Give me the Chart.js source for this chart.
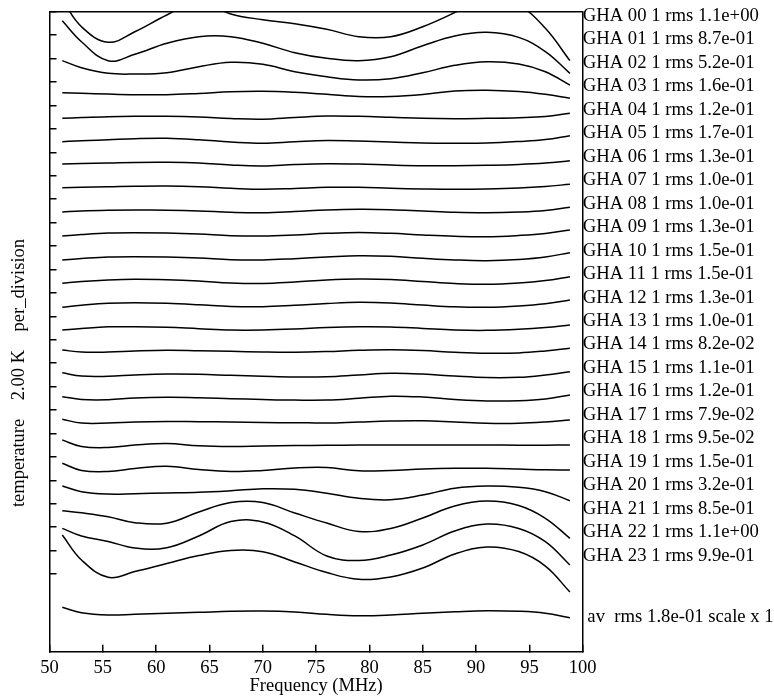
<!DOCTYPE html>
<html>
<head>
<meta charset="utf-8">
<title>GHA residuals</title>
<script src="https://cdn.jsdelivr.net/npm/chart.js@4/dist/chart.umd.min.js"></script>
<style>
  html, body { margin: 0; padding: 0; background: #fff; }
  #chart { display: block; }
</style>
</head>
<body>
<canvas id="chart" width="774" height="696"></canvas>
<script>
// frequencies (MHz) where the curves were sampled
var freqs = [51.2, 53, 55.5, 58, 61, 64, 67, 70, 73, 76, 79, 82, 85, 88, 91, 94, 96.5, 98.8];

// curves in K, already offset by 2 K per division
var gha00 = [1.00, -1.28, -2.61, -1.71, -0.28, 0.91, -0.20, -0.68, -1.02, -1.50, -2.13, -2.13, -1.28, -0.07, 1.34, 0.55, -1.42, -4.18];
var gha01 = [-0.77, -2.56, -4.18, -3.64, -2.70, -2.13, -2.13, -2.70, -3.50, -3.98, -4.18, -3.84, -2.90, -2.07, -1.76, -2.19, -3.41, -5.26];
var gha02 = [-4.18, -4.78, -5.26, -5.32, -5.21, -4.69, -4.32, -4.49, -5.12, -5.55, -5.83, -5.72, -5.21, -4.58, -4.27, -4.46, -5.12, -6.26];
var gha03 = [-6.91, -6.96, -7.03, -7.08, -7.09, -6.98, -6.83, -6.79, -6.88, -7.05, -7.24, -7.24, -7.07, -6.77, -6.70, -6.81, -7.05, -7.39];
var gha04 = [-9.10, -9.03, -8.96, -8.93, -8.93, -8.99, -9.12, -9.18, -9.03, -8.90, -8.93, -9.01, -9.10, -9.13, -9.10, -9.05, -8.95, -8.67];
var gha05 = [-11.10, -11.01, -10.93, -10.84, -10.81, -10.93, -11.12, -11.23, -11.10, -10.99, -11.04, -11.12, -11.21, -11.23, -11.21, -11.08, -10.91, -10.58];
var gha06 = [-13.00, -12.96, -12.92, -12.87, -12.86, -12.92, -13.09, -13.17, -13.04, -12.97, -13.00, -13.09, -13.15, -13.15, -13.11, -13.04, -12.92, -12.72];
var gha07 = [-15.02, -14.99, -14.95, -14.90, -14.88, -14.94, -15.07, -15.16, -15.09, -14.99, -14.99, -15.07, -15.13, -15.16, -15.13, -15.05, -14.92, -14.73];
var gha08 = [-17.10, -17.01, -16.95, -16.93, -16.95, -17.01, -17.12, -17.16, -17.06, -16.93, -16.87, -16.90, -17.01, -17.12, -17.16, -17.10, -16.97, -16.70];
var gha09 = [-19.15, -19.02, -18.89, -18.86, -18.89, -18.98, -19.12, -19.15, -19.06, -18.92, -18.85, -18.92, -19.06, -19.17, -19.21, -19.10, -18.93, -18.63];
var gha10 = [-21.19, -21.07, -20.94, -20.91, -20.94, -21.02, -21.17, -21.19, -21.08, -20.94, -20.83, -20.88, -21.05, -21.19, -21.25, -21.15, -20.94, -20.57];
var gha11 = [-23.18, -23.03, -22.90, -22.84, -22.88, -22.99, -23.16, -23.20, -23.07, -22.90, -22.82, -22.86, -23.03, -23.20, -23.27, -23.16, -22.95, -22.62];
var gha12 = [-25.23, -25.06, -24.89, -24.84, -24.89, -25.01, -25.16, -25.18, -25.06, -24.91, -24.81, -24.87, -25.04, -25.19, -25.23, -25.12, -24.93, -24.61];
var gha13 = [-27.17, -27.04, -26.90, -26.89, -26.94, -27.06, -27.17, -27.17, -27.09, -26.96, -26.89, -26.91, -27.04, -27.17, -27.20, -27.11, -26.96, -26.74];
var gha14 = [-28.88, -29.05, -29.05, -28.96, -28.90, -28.94, -28.99, -29.05, -29.07, -29.01, -28.90, -28.85, -28.92, -29.07, -29.16, -29.13, -28.96, -28.73];
var gha15 = [-30.82, -31.10, -31.12, -31.01, -30.93, -30.95, -31.04, -31.12, -31.18, -31.16, -31.01, -30.87, -30.93, -31.10, -31.23, -31.21, -31.01, -30.73];
var gha16 = [-32.86, -33.10, -33.12, -32.98, -32.92, -32.95, -33.03, -33.10, -33.15, -33.15, -33.00, -32.82, -32.89, -33.10, -33.23, -33.21, -33.06, -32.72];
var gha17 = [-34.79, -35.11, -35.11, -35.02, -34.98, -35.00, -35.02, -35.07, -35.08, -35.11, -35.02, -34.94, -34.92, -35.02, -35.13, -35.13, -35.02, -34.85];
var gha18 = [-36.56, -37.11, -37.20, -36.99, -36.86, -37.05, -37.11, -37.07, -37.03, -37.01, -36.99, -36.99, -36.98, -36.98, -36.99, -37.00, -37.00, -36.99];
var gha19 = [-38.55, -39.16, -39.25, -38.99, -38.80, -39.08, -39.25, -39.16, -38.95, -38.91, -39.19, -39.16, -39.04, -38.98, -38.98, -39.04, -39.10, -39.12];
var gha20 = [-40.49, -40.97, -41.17, -41.14, -41.08, -41.02, -40.89, -40.72, -40.77, -41.11, -41.54, -41.66, -41.26, -40.68, -40.49, -40.60, -40.97, -41.74];
var gha21 = [-42.59, -42.77, -43.11, -43.62, -43.66, -42.71, -41.90, -41.90, -42.79, -43.65, -44.37, -44.11, -43.22, -42.19, -41.77, -42.15, -43.24, -44.95];
var gha22 = [-44.10, -44.75, -45.22, -45.78, -45.75, -44.75, -43.52, -43.56, -44.75, -46.46, -46.85, -46.38, -45.52, -44.33, -43.73, -44.11, -45.24, -47.23];
var gha23 = [-44.67, -46.80, -48.28, -47.79, -47.10, -46.42, -45.99, -46.09, -46.97, -47.87, -48.45, -48.25, -47.49, -46.29, -45.69, -46.08, -47.32, -49.54];
var avg = [-50.84, -51.30, -51.50, -51.44, -51.35, -51.27, -51.18, -51.16, -51.24, -51.44, -51.56, -51.50, -51.35, -51.22, -51.13, -51.18, -51.35, -51.73];

var series = [gha00, gha01, gha02, gha03, gha04, gha05, gha06, gha07, gha08, gha09, gha10, gha11,
  gha12, gha13, gha14, gha15, gha16, gha17, gha18, gha19, gha20, gha21, gha22, gha23, avg];

// right-hand labels and the level (K) where each one sits
var curveLabels = [
  'GHA 00 1 rms 1.1e+00', 'GHA 01 1 rms 8.7e-01', 'GHA 02 1 rms 5.2e-01', 'GHA 03 1 rms 1.6e-01',
  'GHA 04 1 rms 1.2e-01', 'GHA 05 1 rms 1.7e-01', 'GHA 06 1 rms 1.3e-01', 'GHA 07 1 rms 1.0e-01',
  'GHA 08 1 rms 1.0e-01', 'GHA 09 1 rms 1.3e-01', 'GHA 10 1 rms 1.5e-01', 'GHA 11 1 rms 1.5e-01',
  'GHA 12 1 rms 1.3e-01', 'GHA 13 1 rms 1.0e-01', 'GHA 14 1 rms 8.2e-02', 'GHA 15 1 rms 1.1e-01',
  'GHA 16 1 rms 1.2e-01', 'GHA 17 1 rms 7.9e-02', 'GHA 18 1 rms 9.5e-02', 'GHA 19 1 rms 1.5e-01',
  'GHA 20 1 rms 3.2e-01', 'GHA 21 1 rms 8.5e-01', 'GHA 22 1 rms 1.1e+00', 'GHA 23 1 rms 9.9e-01',
  ' av  rms 1.8e-01 scale x 1'
];
var labelLevels = [-0.37, -2.37, -4.38, -6.38, -8.38, -10.39, -12.39, -14.39, -16.39, -18.40, -20.40, -22.40,
  -24.41, -26.41, -28.41, -30.42, -32.42, -34.42, -36.42, -38.43, -40.43, -42.43, -44.44, -46.44, -51.69];

var xTicks = [50, 55, 60, 65, 70, 75, 80, 85, 90, 95, 100];
var yTicks = [0, -2, -4, -6, -8, -10, -12, -14, -16, -18, -20, -22, -24, -26, -28, -30, -32, -34, -36, -38, -40, -42, -44, -46, -48];

var xTitle = 'Frequency (MHz)';
var yTitle = 'temperature    2.00 K    per_division';

var FONT = "'Liberation Serif', 'Times New Roman', serif";
var FONT_SIZE = 18.5;
var Y_MIN = -54.63;
var Y_MAX = 0;

var datasets = series.map(function (vals) {
  return {
    data: vals.map(function (v, i) { return { x: freqs[i], y: v }; }),
    borderColor: '#000',
    borderWidth: 1.5,
    pointRadius: 0,
    tension: 0.4,
    fill: false
  };
});

var axisBorder = { display: true, color: '#000', width: 1.5 };

// rotated title on the left, drawn by hand so it can sit off-centre like the original
var yTitlePlugin = {
  id: 'yTitle',
  afterDraw: function (chart) {
    var ctx = chart.ctx;
    ctx.save();
    ctx.translate(19, 373);
    ctx.rotate(-Math.PI / 2);
    ctx.font = FONT_SIZE + 'px ' + FONT;
    ctx.fillStyle = '#000';
    ctx.textAlign = 'center';
    ctx.textBaseline = 'middle';
    ctx.fillText(yTitle, 0, 0);
    ctx.restore();
  }
};

new Chart(document.getElementById('chart'), {
  type: 'line',
  data: { datasets: datasets },
  options: {
    responsive: false,
    devicePixelRatio: 1,
    animation: false,
    events: [],
    layout: { padding: { top: 11.7, left: 0, right: 0, bottom: 0 } },
    plugins: { legend: { display: false }, tooltip: { enabled: false } },
    scales: {
      x: {
        type: 'linear',
        position: 'bottom',
        min: 50,
        max: 100,
        afterBuildTicks: function (s) { s.ticks = xTicks.map(function (v) { return { value: v }; }); },
        afterFit: function (s) { s.height = 44.3; },
        grid: { display: true, drawOnChartArea: false, drawTicks: true, tickLength: -7, color: '#000', lineWidth: 1.5 },
        border: axisBorder,
        ticks: { color: '#000', font: { family: FONT, size: FONT_SIZE }, padding: 12, maxRotation: 0, autoSkip: false },
        title: { display: true, text: xTitle, color: '#000', font: { family: FONT, size: FONT_SIZE }, padding: { top: 0, bottom: -1 } }
      },
      x2: {
        type: 'linear',
        position: 'top',
        min: 50,
        max: 100,
        afterFit: function (s) { s.height = 0; },
        grid: { display: false, drawTicks: false },
        ticks: { display: false },
        border: axisBorder
      },
      y: {
        type: 'linear',
        position: 'left',
        min: Y_MIN,
        max: Y_MAX,
        afterBuildTicks: function (s) { s.ticks = yTicks.map(function (v) { return { value: v }; }); },
        afterFit: function (s) { s.width = 49.5; },
        grid: { display: true, drawOnChartArea: false, drawTicks: true, tickLength: -7, color: '#000', lineWidth: 1.5 },
        border: axisBorder,
        ticks: { display: false }
      },
      y2: {
        type: 'linear',
        position: 'right',
        min: Y_MIN,
        max: Y_MAX,
        afterBuildTicks: function (s) { s.ticks = labelLevels.map(function (v) { return { value: v }; }); },
        afterFit: function (s) { s.width = 191.3; },
        grid: { display: false, drawTicks: false },
        border: axisBorder,
        ticks: {
          color: '#000',
          font: { family: FONT, size: 18.7, lineHeight: 1 },
          padding: 0,
          autoSkip: false,
          callback: function (value, index) { return curveLabels[index]; }
        }
      }
    }
  },
  plugins: [yTitlePlugin]
});
</script>
</body>
</html>
